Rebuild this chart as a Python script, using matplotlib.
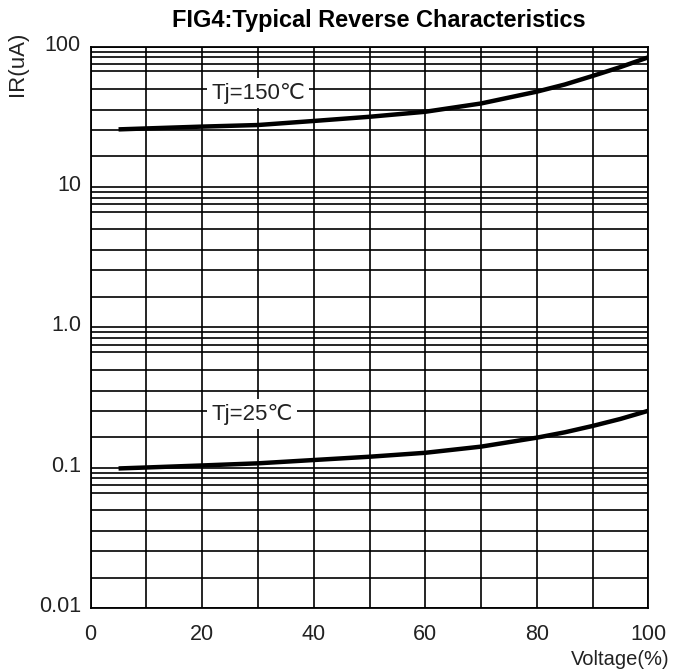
import matplotlib
matplotlib.use("Agg")
import matplotlib.pyplot as plt
from matplotlib.transforms import ScaledTranslation

plt.rcParams['font.family'] = ['Liberation Sans', 'DejaVu Sans']

# values
voltage = [5, 10, 20, 30, 40, 50, 60, 70, 80, 85, 90, 95, 100]
ir_150 = [25.7, 26.1, 26.9, 27.6, 29.5, 31.6, 34.3, 39.3, 47.7, 53.6, 61.7, 71.4, 83.8]
ir_25 = [0.099, 0.1006, 0.104, 0.1077, 0.1137, 0.120, 0.128, 0.1416, 0.164, 0.179, 0.1987, 0.223, 0.255]

x_ticks = [0, 20, 40, 60, 80, 100]
x_grid = list(range(0, 101, 10))
y_ticks = [0.01, 0.1, 1, 10, 100]
y_ticklabels = ["0.01", "0.1", "1.0", "10", "100"]
# the printed chart's in-decade grid lines are not exact log positions
grid_mult = [1.65, 2.55, 3.55, 5.0, 6.65, 7.5, 8.4, 9.2]

fig = plt.figure(figsize=(6.89, 6.72), dpi=100)
ax = fig.add_axes([0.1316, 0.0948, 0.8094, 0.836])

ax.plot(voltage, ir_150, color='black', lw=3.2, solid_capstyle='butt', zorder=3)
ax.plot(voltage, ir_25, color='black', lw=3.2, solid_capstyle='butt', zorder=3)

ax.set_yscale('log')
ax.set_xlim(0, 100)
ax.set_ylim(0.01, 100)

ax.set_xticks(x_ticks)
ax.set_xticks(x_grid, minor=True)
ax.set_yticks(y_ticks)
ax.set_yticklabels(y_ticklabels)
minor_y = [d * m for d in y_ticks[:-1] for m in grid_mult]
ax.set_yticks(minor_y, minor=True)
ax.yaxis.set_minor_formatter(plt.NullFormatter())

ax.grid(True, which='both', color='black', lw=1.2)
ax.set_axisbelow(True)
for s in ax.spines.values():
    s.set_color('black')
    s.set_linewidth(1.3)

ax.tick_params(which='both', length=0, labelsize=15.5, labelcolor='#222222')
ax.tick_params(axis='x', pad=11)
ax.tick_params(axis='y', pad=7)

# y labels sit a little above their lines in the original
off = ScaledTranslation(0, 4 / 100, fig.dpi_scale_trans)
for t in ax.yaxis.get_major_ticks():
    t.label1.set_transform(t.label1.get_transform() + off)

box = dict(facecolor='white', edgecolor='none', pad=3)
ax.text(30.0, 46.5, "Tj=150℃", fontsize=16, ha='center', va='center',
        color='#222222', bbox=box, zorder=4)
ax.text(29.0, 0.241, "Tj=25℃", fontsize=16, ha='center', va='center',
        color='#222222', bbox=box, zorder=4)

fig.text(0.55, 0.970, "FIG4:Typical Reverse Characteristics", fontsize=16.9,
         fontweight='bold', ha='center', va='center')
fig.text(0.026, 0.905, "IR(uA)", fontsize=16, rotation=90, ha='center',
         va='center', color='#222222')
fig.text(0.972, 0.018, "Voltage(%)", fontsize=14.5, ha='right', va='center',
         color='#222222')

fig.savefig("out.png", dpi=100)
